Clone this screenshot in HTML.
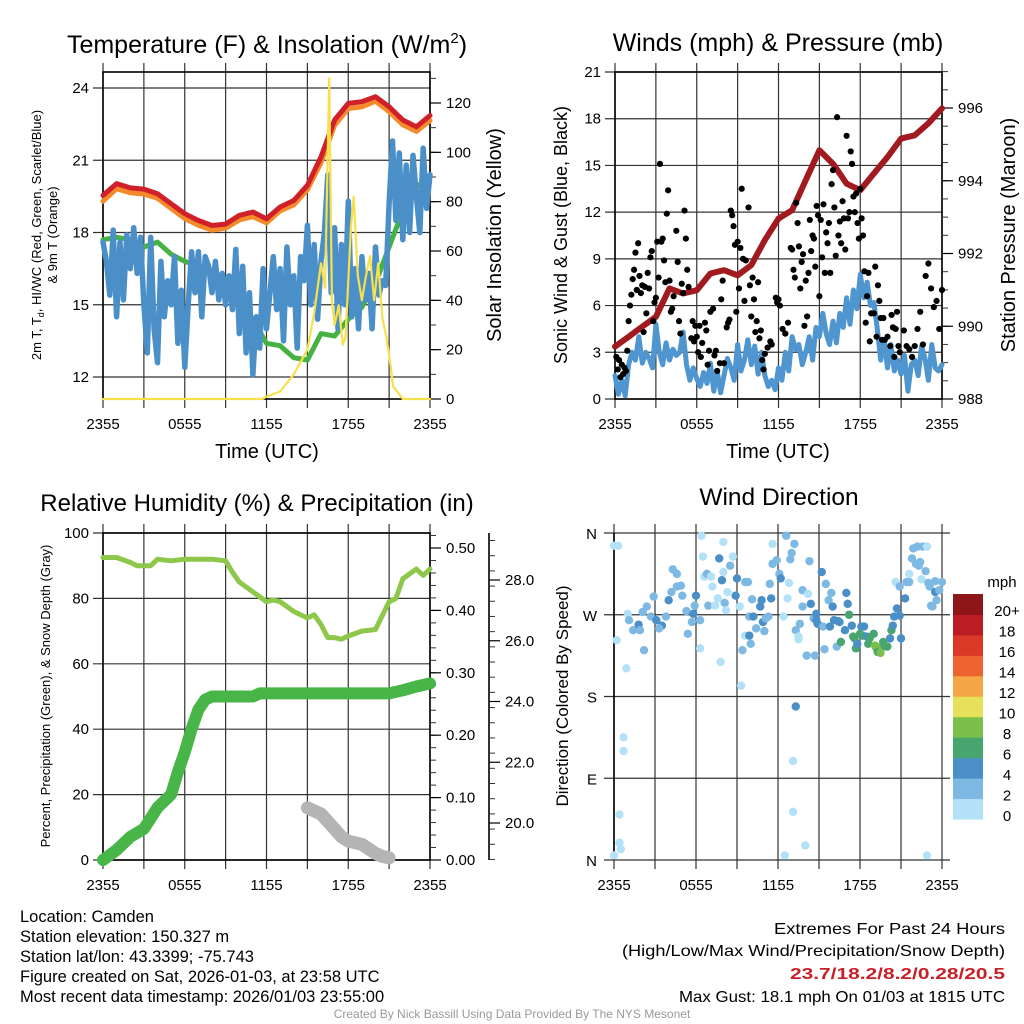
<!DOCTYPE html>
<html><head><meta charset="utf-8"><style>
html,body{margin:0;padding:0;background:#fff;}
svg{display:block;font-family:"Liberation Sans",sans-serif;}
</style></head><body>
<svg id="c" width="1024" height="1024" viewBox="0 0 1024 1024" xmlns="http://www.w3.org/2000/svg">
<g id="p1"></g>
<g id="p2"></g>
<g id="p3"></g>
<g id="p4"></g>
<g id="txt">
<text x="267" y="53" font-size="25" text-anchor="middle">Temperature (F) &amp; Insolation (W/m<tspan font-size="15" dy="-10">2</tspan><tspan dy="10">)</tspan></text>
<text x="778" y="51" font-size="25" text-anchor="middle">Winds (mph) &amp; Pressure (mb)</text>
<text x="257" y="511" font-size="24" text-anchor="middle">Relative Humidity (%) &amp; Precipitation (in)</text>
<text x="779" y="505" font-size="24.5" text-anchor="middle">Wind Direction</text>
<text x="267" y="458" font-size="20" text-anchor="middle">Time (UTC)</text>
<text x="778" y="458" font-size="20" text-anchor="middle">Time (UTC)</text>
<text transform="translate(41,235) rotate(-90)" font-size="13" text-anchor="middle">2m T, T<tspan font-size="9" dy="3">d</tspan><tspan dy="-3">, HI/WC (Red, Green, Scarlet/Blue)</tspan></text>
<text transform="translate(57,235) rotate(-90)" font-size="13" text-anchor="middle">&amp; 9m T (Orange)</text>
<text transform="translate(501,235) rotate(-90)" font-size="20" text-anchor="middle">Solar Insolation (Yellow)</text>
<text transform="translate(567,235) rotate(-90)" font-size="18" text-anchor="middle">Sonic Wind &amp; Gust (Blue, Black)</text>
<text transform="translate(1015,235) rotate(-90)" font-size="20" text-anchor="middle">Station Pressure (Maroon)</text>
<text transform="translate(50,696) rotate(-90)" font-size="13" text-anchor="middle">Percent, Precipitation (Green), &amp; Snow Depth (Gray)</text>
<text transform="translate(568,696) rotate(-90)" font-size="17" text-anchor="middle">Direction (Colored By Speed)</text>
<text x="1002" y="587" font-size="15" text-anchor="middle">mph</text>
<g font-size="16.5">
<text x="20" y="922">Location: Camden</text>
<text x="20" y="942">Station elevation: 150.327 m</text>
<text x="20" y="962">Station lat/lon: 43.3399; -75.743</text>
<text x="20" y="982">Figure created on Sat, 2026-01-03, at 23:58 UTC</text>
<text x="20" y="1002">Most recent data timestamp: 2026/01/03 23:55:00</text>
</g>
<g font-size="16">
<text x="774" y="934" textLength="231" lengthAdjust="spacingAndGlyphs">Extremes For Past 24 Hours</text>
<text x="622" y="956" textLength="383" lengthAdjust="spacingAndGlyphs">(High/Low/Max Wind/Precipitation/Snow Depth)</text>
<text x="790" y="979" textLength="215" lengthAdjust="spacingAndGlyphs" fill="#c8202a" font-weight="bold">23.7/18.2/8.2/0.28/20.5</text>
<text x="679" y="1002" textLength="326" lengthAdjust="spacingAndGlyphs">Max Gust: 18.1 mph On 01/03 at 1815 UTC</text>
</g>
<text x="512" y="1018" font-size="12" fill="#999" text-anchor="middle">Created By Nick Bassill Using Data Provided By The NYS Mesonet</text>
</g>
</svg>
<script>
// ---------- data ----------
const xTickLabels = ["2355","0555","1155","1755","2355"];
const tHours = [0,1,2,3,4,5,6,7,8,9,10,11,12,13,14,15,16,17,18,19,20,21,22,23,24];
const tempRed = [19.54,20.03,19.85,19.8,19.61,19.19,18.78,18.5,18.29,18.35,18.71,18.85,18.57,19.06,19.33,19.96,21.14,22.67,23.36,23.43,23.64,23.22,22.67,22.39,22.86];
const temp9m = [19.3,19.82,19.65,19.6,19.42,19.0,18.58,18.3,18.1,18.18,18.52,18.66,18.4,18.9,19.15,19.78,20.9,22.45,23.15,23.22,23.45,23.02,22.47,22.2,22.65];
const dewGreen = [17.7,17.8,17.7,17.4,17.6,17.1,16.8,16.6,16.4,16.05,15.2,14.4,13.4,13.3,12.8,12.7,13.8,13.7,14.4,14.9,15.9,17.4,18.9,19.9,20.3];
const hiwcBlue = [17.6,16.8,15.4,18.1,14.5,17.6,15.2,17.9,16.5,18.2,16.3,17.8,15.0,13.0,17.8,14.0,12.6,16.8,14.5,16.0,15.0,17.0,13.4,15.6,12.4,15.0,17.2,15.5,17.2,14.5,17.0,16.6,15.5,16.8,15.2,16.3,15.0,16.2,14.8,17.3,13.8,16.6,13.0,15.5,12.1,14.5,13.2,16.5,14.0,15.5,17.0,14.8,16.5,13.5,17.4,15.0,16.2,13.2,17.0,16.0,18.3,15.0,17.5,14.4,16.8,18.0,20.4,15.5,18.2,14.0,17.5,15.0,19.3,14.5,16.5,14.0,17.0,15.2,16.3,14.0,17.4,15.4,16.0,15.8,19.2,21.8,18.5,21.3,17.7,20.8,18.0,21.2,19.5,18.0,21.5,19.0,20.4];
const solarHours = [0,11.7,12,13,14,15,15.5,16,16.3,16.6,16.8,17,17.3,17.6,17.8,18.2,18.4,18.7,19,19.3,19.6,19.9,20.2,20.5,20.8,21,21.3,21.6,22,24];
const solarVals = [0,0,1,3,10,20,35,55,45,130,40,30,38,22,25,70,82,50,40,50,58,40,55,33,25,18,5,3,0,0];
const tempTicks = [12,15,18,21,24];
const solarTicks = [0,20,40,60,80,100,120];

const pressVals = [989.44,989.71,989.99,990.26,991.04,990.9,990.99,991.45,991.54,991.4,991.68,992.37,992.96,993.19,994.02,994.84,994.47,993.92,993.74,994.2,994.65,995.16,995.25,995.58,995.99];
const windBlue = [1.5,0.3,1.2,0.2,2.2,3.0,2.5,4.0,2.3,3.0,2.6,2.0,4.8,3.0,2.2,3.6,2.5,3.2,2.8,3.0,4.3,2.2,1.2,2.0,1.3,0.8,1.7,1.0,2.3,0.5,1.8,0.4,1.5,2.6,2.0,1.2,3.5,1.8,2.5,3.8,2.2,3.4,1.6,3.0,1.5,0.8,1.2,0.6,2.0,1.2,3.0,1.8,4.0,3.2,3.5,2.2,3.0,4.0,2.5,4.6,4.0,5.5,4.2,3.5,5.0,3.6,5.5,4.6,6.5,4.8,7.0,5.8,8.0,6.5,7.5,6.0,6.2,4.5,2.5,3.8,2.0,3.5,1.8,2.5,1.6,2.8,0.5,2.2,2.5,1.5,3.4,2.6,1.2,3.5,2.0,1.8,2.2];
const gustHours = [0.1,0.2,0.3,0.4,0.5,0.6,0.7,0.8,0.9,1.0,1.1,1.2,1.3,1.4,1.5,1.6,1.7,1.8,1.9,2.0,2.1,2.2,2.3,2.4,2.5,2.6,2.7,2.8,2.9,3.0,3.1,3.2,3.3,3.4,3.5,3.6,3.7,3.8,3.9,4.0,4.1,4.2,4.3,4.5,4.6,4.7,4.8,4.9,5.0,5.1,5.2,5.3,5.4,5.6,5.7,5.8,5.9,6.0,6.1,6.2,6.3,6.4,6.6,6.7,6.8,6.9,7.0,7.2,7.3,7.4,7.5,7.7,7.8,7.9,8.0,8.2,8.3,8.4,8.5,8.6,8.7,8.8,8.9,9.0,9.1,9.2,9.3,9.4,9.5,9.6,9.8,9.9,10.0,10.1,10.2,10.3,10.4,10.5,10.6,10.7,10.8,10.9,11.0,11.2,11.4,11.5,11.8,11.9,12.0,12.1,12.3,12.5,12.7,12.9,13.0,13.1,13.2,13.3,13.4,13.5,13.6,13.7,13.8,13.9,14.0,14.1,14.2,14.3,14.4,14.5,14.6,14.7,14.8,14.9,15.0,15.1,15.2,15.3,15.4,15.5,15.6,15.7,15.8,15.9,16.0,16.1,16.2,16.3,16.4,16.5,16.6,16.7,16.8,16.9,17.0,17.1,17.2,17.3,17.4,17.5,17.6,17.7,17.8,17.9,18.0,18.1,18.2,18.3,18.4,18.5,18.6,18.7,18.8,19.0,19.1,19.2,19.3,19.4,19.5,19.6,19.7,19.8,20.0,20.2,20.3,20.4,20.5,20.6,20.7,20.8,20.9,21.2,21.4,21.6,21.8,22.0,22.2,22.4,22.6,22.8,23.0,23.2,23.4,23.6,23.8,24.0];
const gustVals = [2.7,1.9,2.5,1.4,2.2,1.6,2,1.8,3.1,5,6,6.7,7.7,8.3,9.4,7,10,7.9,6.8,7.3,4.3,7.2,5.5,8.1,7.1,9.1,9.5,5,6.2,6.5,10.1,7.8,15.1,10.1,10.3,8.9,7.5,11.9,13.4,7.6,5.6,5.8,6.6,10.8,8.8,5,4.2,7.4,6.8,12.1,10.3,8.3,7.2,3.9,5,3.7,4.7,4,3,4.7,2.7,3.6,4.9,4.4,2.2,3.1,5.6,5.8,2.8,3.1,1.8,2.3,6.4,7.6,2.3,4.6,4.9,5.1,12.1,11.8,11.1,9.9,5.6,10.1,7.1,9.7,13.5,9,6.3,8.9,12.3,7.3,5.3,7.8,6.4,4.3,5,7.5,3.9,4.4,2.5,1.9,2.9,3.3,3.7,3.5,6.5,6.2,6.4,6,4.5,4.2,4.9,9.7,9.6,8.3,7.8,12.6,11.3,9.8,7.1,8.8,9.3,4.7,7.6,5.3,8.1,11.5,9.5,10.5,10.3,8.5,12.4,11.8,6.6,11.5,9.1,12.5,8.1,10.7,10,11.3,8.1,13.8,14.7,12.3,9.2,18.1,10.5,11.4,10,12.7,11.6,9.6,16.9,11.6,12,15.9,15.1,13,12,13.2,11.3,10.3,13.5,11.6,10.5,8.2,4.9,6.6,8.1,3.7,5.5,5.5,8.5,4,7.3,6.3,5.2,3.8,5.2,3.8,4,3.4,5.4,4.6,2.7,4.5,5.6,3.4,3,4.4,3.4,3.2,2.7,3.4,4.5,5.6,3.5,7.9,8.7,7.1,5.9,6.3,4.5,7];
const windTicks = [0,3,6,9,12,15,18,21];
const pressTicks = [988,990,992,994,996];

const rhHours = [0,1,2,2.5,3,3.5,4,5,6,7,8,9,9.5,10,11,12,12.5,13,14,15,15.5,16,16.5,17,17.5,18,19,20,21,21.5,22,23,23.5,24];
const rhVals = [92.5,92.5,91,90,90,90,92,91.5,92,92,92,91.5,88,85,82,79,79.5,79,76,74,75,72,68,68,67.5,68.5,70,70.5,79,80,86,89,87,89];
const precipHours = [0,1,2,3,4,5,5.5,6,6.5,7,7.5,8,11,11.5,21,22,23,24];
const precipVals = [0,0.016,0.037,0.05,0.084,0.105,0.141,0.173,0.21,0.241,0.257,0.262,0.262,0.267,0.267,0.272,0.278,0.283];
const snowHours = [15,16,16.5,17,17.5,18,19,20,20.5,21];
const snowVals = [20.5,20.3,20.05,19.8,19.55,19.4,19.3,19.0,18.9,18.85];
const pctTicks = [0,20,40,60,80,100];
const precipTicks = [0,0.1,0.2,0.3,0.4,0.5];
const snowTicks = [20,22,24,26,28];

const dirHours = [0,0.3,0.2,0.9,0.7,0.7,0.4,0.4,0.5,0,1.0,1.1,1.4,1.8,1.9,2.2,2.1,2.4,2.7,2.9,3.1,3.5,3.3,3.8,4.0,4.2,4.3,4.6,4.6,4.9,5.0,5.3,5.4,5.7,5.8,5.9,6.0,6.3,6.3,6.5,6.4,6.6,6.8,6.9,7.1,7.2,7.4,7.6,7.7,7.8,7.9,8.0,8.0,8.1,8.2,8.3,8.5,8.7,8.9,9.0,9.2,9.3,9.4,9.6,9.6,9.8,9.9,9.9,10.0,10.1,10.2,10.4,10.7,10.8,10.9,11.0,11.1,11.3,11.4,11.5,11.6,11.6,11.9,12.1,12.2,12.4,12.6,12.7,12.8,12.9,13.0,13.1,13.1,13.2,13.3,13.3,13.5,13.5,13.6,13.8,13.8,14.0,14.1,14.2,14.3,14.4,14.6,14.7,14.8,14.8,14.9,15.2,15.3,15.4,15.5,15.7,15.8,15.9,16.0,16.1,16.3,16.4,16.5,16.6,16.9,17.0,17.1,17.2,17.4,17.5,17.6,17.7,17.8,18.0,18.1,18.2,18.3,18.5,18.6,18.7,19.0,19.1,19.2,19.3,19.5,19.6,19.7,19.8,19.9,20.0,20.2,20.3,20.4,20.5,20.7,20.9,21.0,20.6,20.9,21.3,21.4,21.6,21.6,21.8,21.9,22.1,22.2,22.3,22.4,22.5,22.6,22.8,22.9,23.0,23.1,23.2,23.3,23.5,23.5,23.6,23.8,24.0,22.9,12.5];
const dirVals = [346,346,242,211,135,120,50,19,12,5,271,264,253,259,253,231,273,279,268,290,264,258,255,268,286,295,320,315,301,302,291,274,249,262,271,280,291,264,233,334,357,312,315,280,312,301,280,288,332,218,308,350,317,283,275,295,324,334,291,310,279,192,231,247,306,306,247,268,238,287,268,255,279,286,262,252,266,268,304,288,348,326,330,315,310,268,357,288,305,331,338,109,53,348,169,253,246,243,260,279,297,16,225,293,329,282,266,225,271,264,260,317,257,232,304,286,257,294,279,264,235,263,262,240,253,294,282,270,258,246,244,233,238,249,257,247,257,246,238,244,249,236,233,229,228,235,240,236,235,235,244,253,258,268,277,269,244,306,301,288,306,306,315,332,343,326,345,324,328,309,345,318,345,305,301,280,279,295,307,286,297,306,5,5];
const dirSpeeds = [1,1,1,1,1,1,1,1,1,1,1,3,3,5,3,3,3,3,3,3,5,5,3,3,5,3,3,3,3,3,3,3,3,3,5,3,5,3,1,1,1,1,3,3,1,1,1,1,5,1,5,1,1,3,1,1,3,1,5,5,1,1,3,1,3,3,5,3,3,3,5,3,5,5,5,3,3,3,3,5,1,3,3,3,5,1,3,1,1,3,3,1,1,3,5,3,1,1,3,3,3,1,3,1,3,5,3,3,5,5,5,5,3,3,3,3,5,3,5,5,3,5,5,7,5,5,5,7,5,7,7,7,5,7,5,7,5,5,7,7,7,9,9,7,9,9,7,7,7,7,5,7,5,5,5,5,5,1,3,5,3,3,1,3,3,3,3,3,3,1,3,3,1,3,3,3,3,5,3,3,3,3,1,1];
const dirTickLabels = ["N","E","S","W","N"];
const dirTickVals = [0,90,180,270,360];
const cbLabels = ["0","2","4","6","8","10","12","14","16","18","20+"];
const cbColors = ["#b3e1f7","#7eb9e3","#4a8fc7","#49a56f","#7bc04b","#e6e05b","#f5a746","#ee6330","#dc3828","#bb1c26","#8e1619"];

// ---------- helpers ----------
const NS="http://www.w3.org/2000/svg";
function mk(parent,tag,attrs){const e=document.createElementNS(NS,tag);for(const k in attrs)e.setAttribute(k,attrs[k]);parent.appendChild(e);return e;}
function lin(d0,d1,r0,r1){return v=>r0+(v-d0)*(r1-r0)/(d1-d0);}
function path(g,xs,ys,fx,fy,color,w,name){
  let d="";for(let i=0;i<xs.length;i++){d+=(i?"L":"M")+fx(xs[i]).toFixed(1)+","+fy(ys[i]).toFixed(1);}
  const p=mk(g,"path",{d:d,fill:"none",stroke:color,"stroke-width":w,"stroke-linejoin":"round","stroke-linecap":"round"});
  
  
  return p;
}
function frame(g,L,T,R,B,fy,yTicks,fmt){
  const gg=mk(g,"g",{});
  
  
  for(let i=0;i<=8;i++){const x=L+(R-L)*i/8;mk(gg,"line",{x1:x,x2:x,y1:T-9,y2:B+9,stroke:"#333","stroke-width":1.2});}
  yTicks.forEach(v=>{const y=fy(v);mk(gg,"line",{x1:L-10,x2:R,y1:y,y2:y,stroke:"#333","stroke-width":1.2});
    const t=mk(g,"text",{x:L-14,y:y+5,"font-size":15,"text-anchor":"end"});t.textContent=fmt(v);
    
    });
  xTickLabels.forEach((s,i)=>{const t=mk(g,"text",{x:L+(R-L)*i/4,y:B+30,"font-size":15,"text-anchor":"middle"});t.textContent=s;
    
    });
  const r=mk(g,"rect",{x:L,y:T,width:R-L,height:B-T,fill:"none",stroke:"#000","stroke-width":1.6});
  
  
}
function rightAxis(g,X,fy,ticks,minorStep,lo,hi,fmt,T,B,line){
  if(line)mk(g,"line",{x1:X,x2:X,y1:T,y2:B,stroke:"#000","stroke-width":1.6});
  for(let v=lo;v<=hi+1e-9;v+=minorStep){const y=fy(v);if(y<T-0.5||y>B+0.5)continue;mk(g,"line",{x1:X,x2:X+6,y1:y,y2:y,stroke:"#333","stroke-width":1});}
  ticks.forEach(v=>{const y=fy(v);mk(g,"line",{x1:X,x2:X+11,y1:y,y2:y,stroke:"#000","stroke-width":1.2});
    const t=mk(g,"text",{x:X+16,y:y+5,"font-size":15});t.textContent=fmt(v);
    
    });
}

// ---------- panel 1 ----------
(function(){
  const g=document.getElementById("p1");const L=103,R=430,T=72,B=399;
  const fx=lin(0,24,L,R), fy=lin(12,24,377,88), fs=lin(0,120,399,103);
  frame(g,L,T,R,B,fy,tempTicks,v=>String(v));
  rightAxis(g,R,fs,solarTicks,10,0,130,v=>String(v),T,B,false);
  const qh=hiwcBlue.map((v,i)=>i/4);
  path(g,tHours,dewGreen,fx,fy,"#46b244",5,"dewpoint-line");
  path(g,qh,hiwcBlue,fx,fy,"#4b8fc8",5.5,"heat-index-line");
  path(g,tHours,temp9m,fx,fy,"#f58a2a",5,"temp-9m-line");
  path(g,tHours,tempRed,fx,fy,"#d0202a",5,"temp-2m-line");
  path(g,solarHours,solarVals,fx,fs,"#f7e04b",2.2,"solar-line");
})();

// ---------- panel 2 ----------
(function(){
  const g=document.getElementById("p2");const L=615,R=942,T=72,B=399;
  const fx=lin(0,24,L,R), fy=lin(0,21,399,72), fp=lin(988,996,399,108);
  frame(g,L,T,R,B,fy,windTicks,v=>String(v));
  rightAxis(g,R,fp,pressTicks,0.5,988,997,v=>String(v),T,B,false);
  const qh=windBlue.map((v,i)=>i/4);
  path(g,qh,windBlue,fx,fy,"#4f95d0",5,"sonic-wind-line");
  path(g,tHours,pressVals,fx,fp,"#a01a1f",6,"pressure-line");
  gustHours.forEach((h,i)=>{const c=mk(g,"circle",{cx:fx(h),cy:fy(gustVals[i]),r:3.1,fill:"#000"});
    
    });
})();

// ---------- panel 3 ----------
(function(){
  const g=document.getElementById("p3");const L=103,R=430,T=533,B=860;
  const fx=lin(0,24,L,R), fy=lin(0,100,860,533), fpr=lin(0,0.5,860,548), fsn=lin(20,28,823,580);
  frame(g,L,T,R,B,fy,pctTicks,v=>String(v));
  rightAxis(g,R,fpr,precipTicks,0.02,0,0.52,v=>v.toFixed(2),T,B,false);
  rightAxis(g,489,fsn,snowTicks,0.5,18.8,29.4,v=>v.toFixed(1),T,B,true);
  path(g,rhHours,rhVals,fx,fy,"#8dc84b",5,"humidity-line");
  path(g,snowHours,snowVals,fx,fsn,"#b4b4b4",13,"snow-depth-line");
  path(g,precipHours,precipVals,fx,fpr,"#47b548",12,"precipitation-line");
})();

// ---------- panel 4 ----------
(function(){
  const g=document.getElementById("p4");const L=614,R=942,T=533,B=860;
  const fx=lin(0,24,L,R), fy=lin(0,360,860,533);
  const gg=mk(g,"g",{});
  
  
  for(let i=0;i<=8;i++){const x=L+(R-L)*i/8;mk(gg,"line",{x1:x,x2:x,y1:T-9,y2:B+9,stroke:"#333","stroke-width":1.2});}
  dirTickVals.forEach((v,i)=>{const y=fy(v);mk(gg,"line",{x1:L-10,x2:R+8,y1:y,y2:y,stroke:"#333","stroke-width":1.2});
    const t=mk(g,"text",{x:L-17,y:y+6,"font-size":15,"text-anchor":"end"});t.textContent=dirTickLabels[i];
    
    });
  mk(gg,"line",{x1:L,x2:L,y1:T,y2:B,stroke:"#000","stroke-width":1.6});
  xTickLabels.forEach((s,i)=>{const t=mk(g,"text",{x:L+(R-L)*i/4,y:B+30,"font-size":15,"text-anchor":"middle"});t.textContent=s;
    
    });
  dirHours.forEach((h,i)=>{const s=dirSpeeds[i];const k=Math.min(10,Math.floor(s/2));
    const c=mk(g,"circle",{cx:fx(h),cy:fy(dirVals[i]),r:4.2,fill:cbColors[k]});
    
    });
  const cbT=594,cbB=819,cbL=953,cbW=30,n=cbLabels.length,h=(cbB-cbT)/n;
  cbLabels.forEach((lab,i)=>{const y=cbB-(i+1)*h;
    const r=mk(g,"rect",{x:cbL,y:y,width:cbW,height:h+0.5,fill:cbColors[i]});
    
    
    const t=mk(g,"text",{x:1007,y:y+h/2+12,"font-size":15,"text-anchor":"middle"});t.textContent=lab;
    
    });
})();
</script>
</body></html>
